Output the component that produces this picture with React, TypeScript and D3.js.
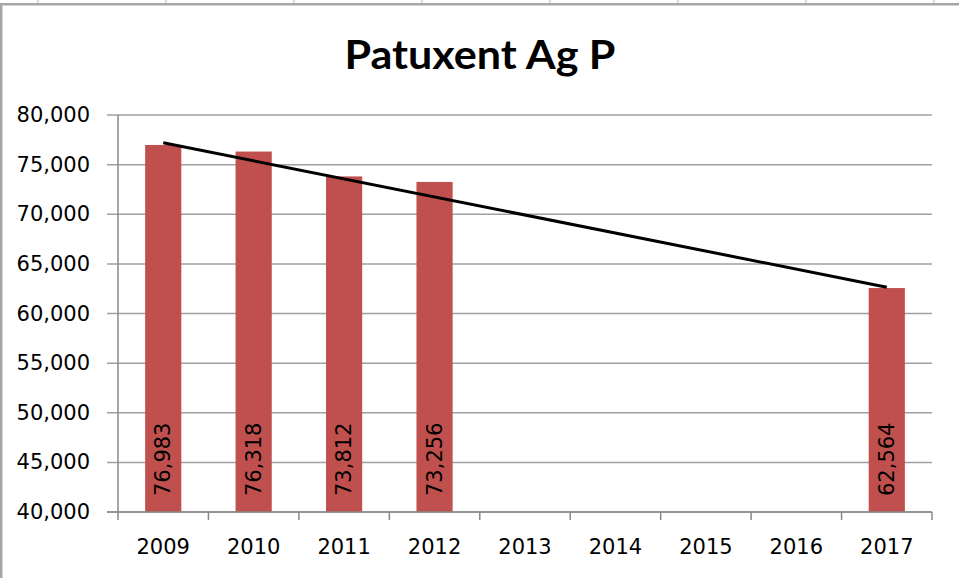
import React from "react";
import * as d3 from "d3";

const years = ["2009", "2010", "2011", "2012", "2013", "2014", "2015", "2016", "2017"];
const values: (number | null)[] = [76983, 76318, 73812, 73256, null, null, null, null, 62564];
const yTicks = [40000, 45000, 50000, 55000, 60000, 65000, 70000, 75000, 80000];
const trendYears = ["2009", "2017"];
const trendValues = [77200, 62650];
const title = "Patuxent Ag P";
const sheetColumns = [38, 166, 294, 422, 550, 678, 806, 934];

const W = 959;
const H = 578;
const plot = { left: 118, right: 932, top: 115, bottom: 512 };
const fmt = d3.format(",");
const FONT = "'DejaVu Sans', Verdana, sans-serif";

export default function App() {
  const x = d3.scaleBand<string>().domain(years).range([plot.left, plot.right]).paddingInner(0.6).paddingOuter(0.3);
  const xb = d3.scaleBand<string>().domain(years).range([plot.left, plot.right]);
  const y = d3.scaleLinear().domain([40000, 80000]).range([plot.bottom, plot.top]);
  const line = d3
    .line<number>()
    .x((_, i) => (xb(trendYears[i]) as number) + xb.bandwidth() / 2)
    .y((d) => y(d));

  const boundaries = d3.range(years.length + 1).map((i) => plot.left + i * xb.step());

  return (
    <svg width={W} height={H} style={{ position: "absolute", left: 0, top: 0, background: "#fff" }}>
      {/* spreadsheet strip */}
      {sheetColumns.map((c) => (
        <line key={c} x1={c} x2={c} y1={0} y2={4} stroke="#c9d2e3" strokeWidth={1.5} />
      ))}
      <rect x={0} y={3} width={W} height={2} fill="#a6a6a6" />
      <rect x={0} y={5} width={W} height={1} fill="#d4d4d4" />
      <rect x={0} y={3} width={2} height={H} fill="#a6a6a6" />
      <rect x={2} y={5} width={1} height={H} fill="#d4d4d4" />

      {/* title */}
      <text
        x={480}
        y={69}
        textAnchor="middle"
        fontFamily="Lato, 'Open Sans', sans-serif"
        fontWeight={700}
        fontSize={41}
        textLength={271}
        lengthAdjust="spacingAndGlyphs"
        fill="#000"
      >
        {title}
      </text>

      {/* gridlines & y ticks */}
      {yTicks.map((t) => (
        <g key={t}>
          <line x1={107} x2={plot.right} y1={y(t)} y2={y(t)} stroke="#a0a0a0" strokeWidth={1.5} />
          <text
            x={90}
            y={y(t)}
            textAnchor="end"
            dominantBaseline="central"
            fontFamily={FONT}
            fontSize={21}
            fill="#000"
          >
            {fmt(t)}
          </text>
        </g>
      ))}

      {/* bars */}
      {years.map((yr, i) => {
        const v = values[i];
        if (v == null) return null;
        const bx = x(yr) as number;
        return (
          <g key={yr}>
            <rect x={bx} y={y(v)} width={x.bandwidth()} height={plot.bottom - y(v)} fill="#c0504d" />
          </g>
        );
      })}

      {/* axes */}
      <line x1={plot.left} x2={plot.left} y1={plot.top} y2={plot.bottom} stroke="#888" strokeWidth={1.5} />
      <line x1={107} x2={plot.right} y1={plot.bottom} y2={plot.bottom} stroke="#888" strokeWidth={1.5} />
      {boundaries.map((bx, i) => (
        <line key={i} x1={bx} x2={bx} y1={plot.bottom} y2={plot.bottom + 8} stroke="#888" strokeWidth={1.5} />
      ))}
      {years.map((yr) => (
        <text
          key={yr}
          x={(xb(yr) as number) + xb.bandwidth() / 2}
          y={547}
          textAnchor="middle"
          dominantBaseline="central"
          fontFamily={FONT}
          fontSize={21}
          fill="#000"
        >
          {yr}
        </text>
      ))}

      {/* trendline */}
      <path d={line(trendValues) as string} fill="none" stroke="#000" strokeWidth={3} />

      {/* data labels */}
      {years.map((yr, i) => {
        const v = values[i];
        if (v == null) return null;
        const cx = (xb(yr) as number) + xb.bandwidth() / 2;
        const cy = plot.bottom - 16;
        return (
          <text
            key={yr}
            transform={`translate(${cx},${cy}) rotate(-90)`}
            textAnchor="start"
            dominantBaseline="central"
            fontFamily={FONT}
            fontSize={21}
            fill="#000"
          >
            {fmt(v)}
          </text>
        );
      })}
    </svg>
  );
}
